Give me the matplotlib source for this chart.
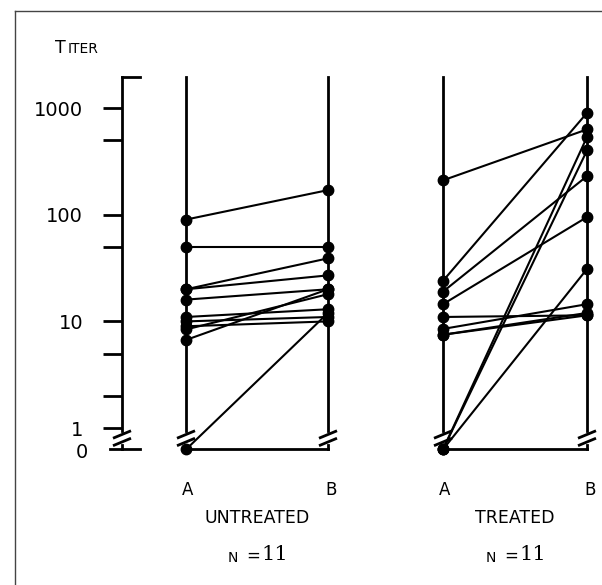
import numpy as np
import matplotlib.pyplot as plt

# titers, 0 = below detection (drawn under the axis break)
untreated_a = [90, 50, 20, 20, 16, 11, 10, 9, 8.4, 6.7, 0]
untreated_b = [170, 50, 39, 27, 20, 13, 11, 10, 18, 20, 12]
treated_a = [210, 24, 19, 14.5, 11, 8.5, 7.5, 7.5, 0, 0, 0]
treated_b = [630, 900, 230, 95, 11.4, 14.5, 11.4, 12, 535, 400, 31]

groups = ["UNTREATED", "TREATED"]
n_per_group = [11, 11]
major_ticks = [1, 10, 100, 1000]
major_labels = ["1", "10", "100", "1000"]
minor_ticks = [2, 5, 50, 500]

W, H = 602, 585
ZERO = -0.2          # where "0" sits on the log axis
TOP = 3.29           # top of the drawn verticals
AXIS_X = 122
COLS = [(186, 328), (443, 587)]


def to_log(v):
    v = np.asarray(v, dtype=float)
    out = np.full(v.shape, ZERO)
    pos = v > 0
    out[pos] = np.log10(v[pos])
    return out


def fx(x):
    return x / W


def fy(y):
    return 1 - y / H


def break_mark(ax, x, lw=2.0):
    for dy in (0.0, -0.07):
        ax.plot([x - 9, x + 9], [-0.06 + dy - 0.035, -0.06 + dy + 0.035],
                color="black", lw=lw, solid_capstyle="butt")


fig = plt.figure(figsize=(W / 100, H / 100), dpi=100)
ax = fig.add_axes([0, 0, 1, 1])
ax.set_xlim(0, W)
# 1000 sits at y=108 px, 1 at y=428 px
ax.set_ylim(3 - (H - 108) / 106.7, 3 + 108 / 106.7)
ax.patch.set_alpha(0)

for side in ["top", "right", "bottom"]:
    ax.spines[side].set_visible(False)
ax.spines["left"].set_position(("data", AXIS_X))
ax.spines["left"].set_bounds(-0.03, TOP)
ax.spines["left"].set_linewidth(2)
ax.set_xticks([])
ax.set_yticks(np.log10(major_ticks), major_labels)
ax.set_yticks(np.log10(minor_ticks), minor=True)
ax.tick_params(axis="y", which="both", direction="out", length=14, width=2,
               pad=14, labelsize=14)

# bracket at top of the axis, break and foot at the bottom
ax.plot([AXIS_X, AXIS_X + 18], [TOP, TOP], color="black", lw=2)
break_mark(ax, AXIS_X)
ax.plot([AXIS_X, AXIS_X], [-0.16, ZERO], color="black", lw=2)
ax.plot([AXIS_X - 12, AXIS_X + 18], [ZERO, ZERO], color="black", lw=2)
ax.text(AXIS_X - 34, ZERO - 0.03, "0", ha="right", va="center", fontsize=14)

# column frames
for xa, xb in COLS:
    for x in (xa, xb):
        ax.plot([x, x], [-0.03, TOP], color="black", lw=2)
        ax.plot([x, x], [-0.16, ZERO], color="black", lw=2)
        break_mark(ax, x)
    ax.plot([xa, xb], [ZERO, ZERO], color="black", lw=2)

# paired titers
for (xa, xb), a_vals, b_vals in zip(COLS, [untreated_a, treated_a],
                                     [untreated_b, treated_b]):
    la, lb = to_log(a_vals), to_log(b_vals)
    for ya, yb in zip(la, lb):
        ax.plot([xa, xb], [ya, yb], color="black", lw=1.5,
                marker="o", ms=7.5, mfc="black", mec="black")

# labels
fig.text(fx(55), fy(48), "T", fontsize=12.5, ha="left", va="center")
fig.text(fx(68), fy(49), "ITER", fontsize=10, ha="left", va="center")

narrow = ["Liberation Sans Narrow", "DejaVu Sans"]
for (xa, xb), name, n in zip(COLS, groups, n_per_group):
    fig.text(fx(xa + 2), fy(490), "A", fontsize=12, ha="center", va="center")
    fig.text(fx(xb + 3), fy(490), "B", fontsize=12, ha="center", va="center")
    mid = (xa + xb) / 2
    fig.text(fx(mid), fy(518), name, fontsize=12.5, ha="center", va="center",
             family=narrow)
    fig.text(fx(mid - 24), fy(558), "N", fontsize=10, ha="center", va="center")
    fig.text(fx(mid - 4), fy(556), "=", fontsize=12, ha="center", va="center")
    fig.text(fx(mid + 18), fy(555), str(n), fontsize=15, ha="center",
             va="center", family="DejaVu Serif")

# frame of the scanned page
fig.add_artist(plt.Line2D([fx(15), fx(15)], [fy(11), 0], color="#444444", lw=1))
fig.add_artist(plt.Line2D([fx(15), 1], [fy(11), fy(11)], color="#444444", lw=1))

fig.savefig("out.png", dpi=100)
